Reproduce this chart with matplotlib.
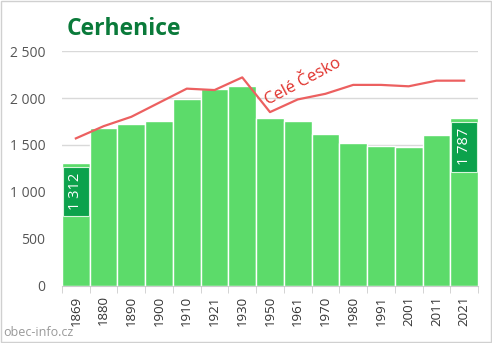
import numpy as np
import matplotlib
matplotlib.use("Agg")
from matplotlib import pyplot as plt
from matplotlib.patches import Rectangle

years = ["1869", "1880", "1890", "1900", "1910", "1921", "1930", "1950",
         "1961", "1970", "1980", "1991", "2001", "2011", "2021"]
population = [1312, 1680, 1722, 1755, 1989, 2094, 2128, 1782,
              1752, 1620, 1524, 1492, 1475, 1610, 1787]
# Celé Česko, scaled to the village
czechia = [1570, 1700, 1800, 1950, 2100, 2085, 2220, 1850,
           1985, 2045, 2140, 2140, 2125, 2185, 2185]
labelled = [0, 14]

plt.rcParams['font.family'] = ['Open Sans', 'DejaVu Sans']

fig = plt.figure(figsize=(4.92, 3.43), dpi=100)
ax = fig.add_axes([0.126, 0.167, 0.8455, 0.684])

x = np.arange(len(years))
ax.bar(x, population, width=1.0, color='#5cdb6a', edgecolor='white', linewidth=1, zorder=2)
ax.plot(x, czechia, color='#ec6060', linewidth=1.6, zorder=3)

for i in labelled:
    top = population[i] - 45
    ax.add_patch(Rectangle((i - 0.46, top - 525), 0.92, 525, facecolor='#0ca24c',
                           edgecolor='#d8f5dc', linewidth=0.8, zorder=4))
    ax.text(i, top - 262, f"{population[i]:,}".replace(",", " "), rotation=90,
            color='white', fontsize=10.5, ha='center', va='center', zorder=5)

ax.text(8.2, 2170, "Celé Česko", rotation=28, color='#e0302a', fontsize=12,
        ha='center', va='center', rotation_mode='anchor', zorder=5)

ax.set_xlim(-0.5, len(years) - 0.5)
ax.set_ylim(0, 2500)
ax.set_yticks(np.arange(0, 2501, 500))
ax.set_yticklabels([f"{v:,}".replace(",", " ") for v in range(0, 2501, 500)])
ax.set_xticks(x)
ax.set_xticklabels(years, rotation=90)
ax.set_xticks(np.arange(-0.5, len(years), 1), minor=True)
ax.tick_params(axis='x', which='major', length=0, pad=7, labelsize=9.5, labelcolor='#333333')
ax.tick_params(axis='x', which='minor', length=5, color='#cccccc')
ax.tick_params(axis='y', length=0, pad=12, labelsize=10, labelcolor='#555555')
ax.grid(axis='y', color='#d9d9d9', linewidth=1, zorder=0)
ax.set_axisbelow(True)
for s in ['top', 'right', 'left']:
    ax.spines[s].set_visible(False)
ax.spines['bottom'].set_color('#cccccc')

fig.text(0.136, 0.915, "Cerhenice", color='#0a7a3a', fontsize=16.5, fontweight='bold',
         ha='left', va='center')
fig.text(0.006, 0.03, "obec-info.cz", color='#999999', fontsize=9, ha='left', va='center')
fig.add_artist(Rectangle((0.002, 0.003), 0.995, 0.993, transform=fig.transFigure,
                         fill=False, edgecolor='#d0d0d0', linewidth=1))

fig.savefig("out.png", dpi=100)
